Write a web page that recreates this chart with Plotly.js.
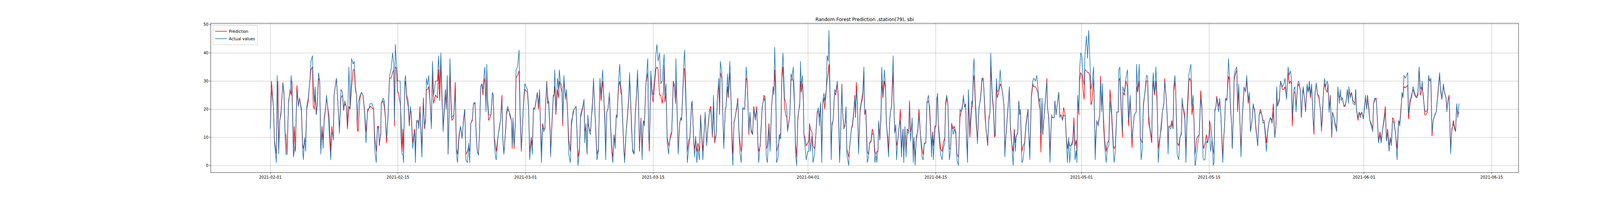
<!DOCTYPE html>
<html>
<head>
<meta charset="utf-8">
<script src="https://cdn.plot.ly/plotly-3.0.1.min.js"></script>
<style>
    html, body { margin: 0; padding: 0; background: #ffffff; overflow: hidden; }
    #plot1 { width: 4320px; height: 504px; }
</style>
</head>
<body>
<div id="plot1"></div>
<script>
// hours after 2021-02-01 00:00
var hours = [
    0,3,8,11,16,18,20,22,25,28,33,36,39,41,44,48,52,55,57,61,63,66,70,74,77,82,85,87,90,93,96,100,104,107,111,113,116,118,121,124,127,130,133,136,139,142,146,148,152,155,159,162,166,168,174,178,182,186,190,193,196,200,203,207,210,214,218,221,224,227,229,231,236,240,244,248,252,256,259,263,268,272,275,279,282,285,287,291,292,297,300,303,306,310,314,318,322,325,327,329,332,335,
    337,342,344,347,349,351,354,356,359,363,366,369,371,375,378,380,382,385,389,391,394,396,399,403,406,409,411,414,417,421,424,427,430,435,440,443,446,449,452,455,461,463,466,468,471,473,476,478,483,487,490,493,497,501,505,509,512,515,519,522,525,528,532,535,539,542,545,548,551,554,557,560,562,565,568,570,572,575,581,585,587,590,593,595,599,603,606,610,612,615,618,620,622,625,629,632,635,637,639,642,645,647,651,655,658,661,664,667,670,677,680,683,
    687,690,693,696,699,703,706,709,712,714,717,720,723,725,728,730,733,737,738,741,745,747,749,752,756,759,761,764,768,770,773,777,780,783,786,790,793,797,800,805,808,810,814,817,822,826,828,831,834,836,840,843,846,848,851,853,857,860,864,868,871,875,877,881,883,886,889,893,896,900,902,905,908,911,913,917,920,923,925,929,931,933,937,941,944,946,949,951,954,958,961,964,967,970,972,976,979,982,985,989,994,996,998,1002,1005,1008,1013,1015,1018,1021,1025,1028,1032,1035,
    1037,1039,1042,1045,1049,1050,1054,1057,1061,1064,1067,1068,1071,1074,1078,1081,1083,1086,1089,1091,1096,1098,1102,1105,1109,1111,1115,1117,1120,1123,1126,1130,1133,1136,1139,1145,1149,1153,1157,1160,1164,1167,1170,1174,1177,1181,1183,1185,1189,1192,1194,1198,1200,1204,1206,1210,1213,1216,1218,1221,1225,1228,1231,1234,1237,1240,1242,1244,1249,1253,1256,1260,1263,1266,1270,1273,1277,1281,1284,1286,1290,1295,1300,1303,1306,1309,1313,1316,1320,1324,1326,1328,1331,1333,1337,1340,1344,1347,1350,1354,1357,1360,1362,1368,1371,1374,1377,1380,1383,1386,
    1389,1392,1394,1396,1398,1401,1404,1405,1408,1411,1415,1418,1420,1422,1426,1429,1433,1436,1440,1443,1446,1449,1452,1455,1458,1460,1464,1466,1469,1471,1474,1477,1479,1482,1486,1489,1493,1495,1499,1501,1505,1507,1510,1513,1516,1518,1523,1525,1530,1533,1536,1539,1541,1543,1546,1549,1553,1556,1560,1563,1565,1568,1572,1575,1578,1582,1585,1589,1592,1595,1597,1600,1602,1605,1608,1610,1613,1617,1620,1622,1626,1628,1631,1633,1636,1640,1642,1644,1647,1649,1652,1656,1659,1662,1666,1668,1671,1674,1677,1681,1683,1686,1690,1693,1695,1698,1701,1705,1708,1712,1716,1719,1722,1726,1729,1733,
    1736,1740,1741,1744,1746,1750,1753,1755,1757,1759,1762,1765,1769,1772,1776,1778,1781,1784,1788,1791,1794,1798,1801,1805,1808,1812,1816,1819,1822,1825,1828,1831,1833,1836,1838,1842,1847,1849,1851,1853,1856,1859,1862,1866,1870,1874,1877,1879,1882,1885,1889,1892,1895,1897,1901,1904,1907,1909,1912,1914,1918,1922,1925,1928,1932,1934,1938,1942,1946,1949,1952,1956,1959,1962,1964,1968,1971,1973,1975,1979,1982,1986,1990,1995,1997,2000,2004,2008,2010,2015,2018,2021,2024,2027,2029,2032,2034,2038,2042,2045,2046,2050,2053,2057,2060,2064,2066,2069,2076,2079,2082,
    2086,2089,2093,2096,2099,2102,2105,2108,2113,2116,2119,2122,2124,2126,2129,2131,2134,2137,2140,2143,2145,2149,2152,2155,2158,2161,2164,2168,2172,2176,2180,2184,2186,2189,2191,2194,2197,2201,2204,2208,2211,2215,2220,2222,2225,2229,2233,2234,2237,2240,2244,2245,2249,2253,2257,2260,2264,2266,2269,2271,2275,2280,2281,2284,2288,2291,2293,2296,2299,2303,2307,2310,2313,2316,2321,2323,2325,2328,2330,2332,2335,2338,2341,2346,2349,2353,2355,2359,2362,2364,2366,2371,2374,2377,2379,2382,2384,2388,2392,2395,2399,2401,2405,2408,2411,2414,2419,2421,2424,2427,2430,2432,2435,
    2436,2439,2443,2446,2450,2453,2456,2458,2461,2465,2468,2472,2473,2476,2480,2483,2485,2487,2490,2492,2497,2500,2503,2506,2508,2510,2513,2515,2519,2523,2526,2528,2531,2533,2536,2538,2541,2545,2547,2550,2552,2556,2559,2564,2568,2571,2575,2578,2581,2585,2588,2592,2595,2600,2604,2607,2611,2614,2617,2623,2626,2629,2633,2638,2641,2645,2648,2650,2652,2657,2660,2665,2669,2672,2676,2680,2683,2686,2689,2691,2695,2698,2701,2705,2708,2712,2715,2718,2720,2724,2726,2730,2733,2736,2739,2742,2746,2748,2751,2754,2758,2761,2765,2768,2770,2773,2776,2779,2783,
    2785,2788,2791,2795,2797,2801,2804,2808,2811,2815,2817,2820,2823,2827,2830,2833,2836,2839,2840,2844,2847,2851,2856,2858,2860,2864,2867,2870,2874,2878,2881,2884,2887,2889,2893,2895,2899,2903,2905,2908,2912,2915,2918,2922,2925,2929,2932,2936,2939,2942,2946,2949,2952,2955,2959,2963,2967,2971,2974,2977,2980,2983,2985,2989,2995,2997,3001,3005,3009,3013,3018,3022,3025,3028,3031,3033,3036,3040,3043,3047,3050,3053,3056,3059,3062,3067,3070,3073,3076,3079,3082,3085,3089,3092,3096,3098,3101,3104,3108,3111,3115,3118,3121,3124,3127,3130
];

var actual = [
    13,27,21,8,1,32,20,4,16,19,29,25,9.5,4,4,23,26,32,26,3,5,8,26,21,24,19,6,2,10,5,21,24,30,37,39,29,22.5,28,18,23,33,30,4,13,6,16,20.6,25,19,12,2,12,10,25,31,22,11.4,27,26,20,23,21,15,35,20,38,36,37,28,25,14,22,24.7,26,25,19,8,20,20,22,22,20,5.4,1,14,13,8,11,22,24,23,17.4,10,17,32,34,40,36,16,43,36,30,
    30,30,10,4,4,1,30,32,25,23,15,21,18,6,10,12,1,16,16,13,20,14,3,24,14,17,31,28.5,32,21.5,13,37,25,30,30,39,27,40,26,12,26,20,32,4,19,38,23.4,17,18,26,4,1,10,14,9.5,17,20,2,1,8,1,15,16.5,22,22.5,12,5,3.6,12,28,29,27,31,35,19,36,24,18,18,26,25,7.7,3,2,9.5,13.7,16,23,9.5,4,9.5,14,19,21,19,18,16,7,17,7,15,34,35,41,18,6,15,23,29,27,21,2,
    9.5,4,20.6,20,22.5,26,21.5,27,9.5,1,14,12,13,22.5,29.4,25,21.5,11,3,14,25,25,34,19,31,27,34,29.4,28,16,32,23.4,27,18,4,1,14,19,20,21,9.5,0,5,18,20.6,23,8,15,4,18,12,11,18,20,31,24,11.4,2,5,31,25,34,28,14,2,19,20,26,13,3,1,11,6,18,17,30,36,28,26.6,12,5,1,12,19,25,33,23,14,5,4,19,25,34,20,7,16.5,2,16,14,29,38,12,7,33.6,27,25,32.6,39,43,37,40,29,30,36,
    39.5,25,29,8,4,8,10,11.4,28,29,22.5,38,19.7,4,15,17,16,27,37,41,17,1,7,10.5,22,23,8.6,3,10.5,1,6,2,17.4,10.5,2,19,7,15,20,19,11,25,9.5,11,23.4,31,19,37,33,16,6,20,20.6,32.6,25,37,24,5.4,0,15.5,18,21,23,11.4,4,1,10.5,20.6,20,35,29.4,12,19,13,11,20,16,20.6,7,1,8,20.6,24,22.5,3,1,14,5,21.5,28,25,42,29,1,3,11,9.5,32.6,40,24,22.5,20,12,18,32.6,31,35,24,4,0,
    17,20,21,37,28,32,22.5,11,7,2,5,5,14,5,10.5,1,4,9.5,18,20.6,14,22.5,1,23.4,25.7,23,27,39,37,48,23.4,2,15,16,27,26,30,24,1,7.7,28,19,13,14,21,4,0,6,13,15,19,24,17,26,22.5,4,20,22.5,26,35,18.3,19,1,3,7.7,8.6,11.4,11,1,4,1,6,16,9.5,19,35,25,34,28,16,8,3,16,19,21.5,39,22.5,11.4,14.6,2,8.6,14,16,3,13,1,14,3,12,11.4,22,8.6,17,1,10,0,10.5,12,18,11,3,2,7.7,8,22.5,25,
    18.8,8.6,3,11.4,2,13,14.6,24,25,14,8,4,2,6,8,22,25,22.5,2,5,15,11,13,11,2,0,20,19,20,25,20.6,22,9.5,1,27,13,23,21.5,34,38,25,17,7.7,20.6,23.4,30,31,27,19.7,12,8.6,16,19,40,25,21,12,10.5,31,26,27,34,28,26,21,3,13,19,28,14,8.6,0,12,5,10.5,11.4,23,18,20,1,2,7,14,20,11,2,25,30,31,30,32,28,22.5,24,11.4,24,11,18,26,30,21.5,16,1,18,17,17,23,18,26,17,18,
    16,18,17.4,9.5,1,10,1,7,7.7,15,2,5.4,1,25,19,34,40,38.6,31,28.5,38.6,46,38,48,37.7,27,29,35,2,16,14,18,30,19,29.2,14,7,1,6,7,23,18,5,1,5,19,19,33.8,35,22.5,12,28,26,31,34,16,25,19,9.5,12,18,19,36,26,36,9.5,2,6,22,26,32,31.7,18,13.7,9.5,28,33,26,28.5,35,24,1,7,15,19,22.5,30,24,16,4,14,13,15,13,28,32,26.6,4,2,9.5,12,24,19,16.5,1,19,32.6,34,36,21,25,16,0,
    0.3,4,8.6,11,24,20,3,2,2,8.6,8,11,15,5,9.5,0,1,19.7,21,24,19,24,18,7,1,8,15,24,23,38,31,22,15,6,19,31.7,34,35,21,29,21,3,17,28,26,32,23,26,12,16,22,19,13,7,18,19,18,15,15.5,5,11.4,15,17,15,19,10,14,28,21,24,30,28,29,31,23.4,35,32,33.6,31,17.4,27,28,19,29,30,27,17,26,28,22.5,19.7,29,26,30,25,29,16,13,25,29.4,25,25,19.7,12,19,25.7,31,28,30,
    28.5,18.8,24,10.5,19,17,14,12,28,22,27,23,24,21,21.5,23,27,22,28,24,26,22,21.5,27,20,17,19,17,19,16.5,20,25,20,24,19,16,14,12,22,24,23.4,17,8,11,8,13,15,19,8.6,12,5,10,7,16,15,11.4,2,16,14,19,26,24,32,31,33,18.3,23.4,24,28,26,24,25,35,28,27,30,24,19.7,19,20,32,30,31,12,16,18.3,19,23.4,28,33,26,23.4,29,25.7,24,19,23.4,24,4,13,15,13,12,22,17,22
];

var prediction = [
    13.5,30,21,9,4,25,30,6,16,18,29.5,26,11,11,4,22,27,25,30,4,14,5,28.5,21,24,20,8,6,8,9,20,23,30,34,35,21,20,25,18,22,31,30,6,14,9,17,21,24,20,17,5,14,9,25,31,22,13,24,25,19.5,22,21,13,21,20,28,34,34,27,25,13,12,24,26,25,20,12,19,20,21,20.5,20,10,5,13.5,14,7,12,22,23,21,17,8,18,31,31,33,34,14,35,34.5,26,
    26,22,18,5,13,4,28,30,24,21,14,20,19,8,11,13,5,15,16,14,21,15,6,24,13,16,27,27,28,22,14,33,22,25,24,34,23,36,23,14,27,20,29,4,18,34,21,16,17,29.6,6,4,11,14,10,16,20,4,5,7,5,15,16,22,22,11,5,4,12,28,29,25,29,31,21,34,22,16,18,26,25,10,7,5,10,13,16,25,10,4,10,13,18,20,19,17,16,6,15,6,14,31,32,33.6,16,5,14,22,27,26,20,5,
    10,7,20,20,22,26,20,26,12,5,15,13,13,22,30,22,23,12,4,13,24,25,28,18,27,24,30,28,26,14,30,25,25,18,9,5,16,18,20,21,10,3,6,17,20,23.5,12,14,4,15,13,12,18,22,30,24,12,4,6,30,23,30,27,17,5,19,20,25,14,5,3,11,8,18,17,28,30,26,25,12,5,3,12,18,24,31,22,13,6,4,18,24,32,19,5,17,6,16,15,29,33,12,5,32,25,22.5,30,34,35,34,25,25,22,26,
    35.6,22.5,26,10,7,7,11,12,30,28,22,30,21,5,15,17,16,26,34.5,34,16,5,9,10,21,22,8,6,10,5,8,5,18,11,5,18,8,14,20,21,10,21,8,11,23,29,18,33,31,16,7,20,21,28,24,33,24,10,4,15,18,20,24,12,8,5,7,20,20,31,30,11,18,12,11,21,17,21,8,5,7,20,25,24,6,7,15,7,21,28,26,34,24,5,7,9,12,31,35,21,18,17,13,18,30,31,30,22,8,3,
    16,20,22,30,26,29,22,11,10,7,8,9,15,13,12,7,6,10,19,20,17,22,5,22,24,20,26,30,33,35.9,24,6,14,16,26,25,29,26,4,8,29,19,14,14,20,6,3,6,13,14,18,25,17,29.6,22,5,19,22,24,33,18,20,5,4,8,9,13,11,5,4,5,5,15,9,17,30,24,30,27,15,10,5,16,19,21,33,22,12,13,7,9,14,20,6,13,5,13,6,13,12,23,12,15,5,10,3,9,13,20,11,6,4,8,8,22,23,
    21,10,7,12,7,14,14,22,25.7,15,11,6,5,8,10,21,24,22,6,6,15,13,14,12,4,3,17,19,21,24,21,22,10,5,23,10,21,21,30,32,24,14,9,20,24,31,31,27,17,13,7,17,19,35,24,20,10,11,30,24,26,29,28,26,21,6,12,20,27,13,8,5,13,8,10,12,23,18,20,5,7,8,15,20,11,6,24,29,28,28,27,26,22,20,4.7,22,11,18,25,31,21,17,5,17,17,17,23,18,26,18,18,
    16,20.6,18,10,6,9,7,7,9,17,7,9,5,24,18,30,33,32,26.6,23.4,34,33.6,33,33,31.7,21.5,23,31,6,15,15,18,31.7,20,27,17,9,5,8,9,27,20,7,6,7,19,19,30,31,21,10,26,25,30,28,14,23,18,6.3,12,18,19,28,26,30,10,9,8,21,26,30,30,15,13,8,26,30,25,27,30,22,6,9,13,19,22,31,24,17,7,14,14,16,13,26,30,27,8,7,10,11,22,20,18,6,16,30,31,30,18,22,17,4,
    5,9.5,10.5,11,26.6,21,7.7,6,7.7,11,8,11,16,14,9,5.4,4,19,21,24.6,21,23,18,8,3,9,15,23,24,31.7,30,21,15,6,18,30,32.4,34,19,27,20,6,16,27,27,30,22,25,12,16,21,20,14,7,18,20,18,16,16,8,12,15,17,16,22,10,14,27,21,23,30,27,27,28,24,33,29,30,29,14,26,26,21,28,29,27,17,25,27,23,19,28,26,28,24,28,16,11,26,29,25,24,20,13,16,26,29,27,26,
    29,20,25,10,19,17,15,13,26,24,25,24,24,21,21,23,27,23,26,25,26,23,22,27,20,16,19,18,19,17,21,24,20,25,20,16,15,13,22,23,24,17,9,12,9,13,16,21,9,13,7,10,8,17,16,11,6,16,15,20,25,25,28,27.6,28.5,16.5,22,25,27,25,24,26,35,25,26,28,25,18,18,19,31,30,30,10.5,16,18,19,23,27,32,27,24,28,26,24,20,23,25,6,12,16,14,12,21,18,19
];

var tickDates = ['2021-02-01', '2021-02-15', '2021-03-01', '2021-03-15', '2021-04-01', '2021-04-15', '2021-05-01', '2021-05-15', '2021-06-01', '2021-06-15'];
var yTicks = [0, 10, 20, 30, 40, 50];

var t0 = Date.UTC(2021, 1, 1);
var n = Math.min(hours.length, actual.length, prediction.length);
var times = [];
for (var i = 0; i < n; i++) {
    times.push(new Date(t0 + hours[i] * 3600000).toISOString().slice(0, 19).replace('T', ' '));
}

var axisStyle = {
    showgrid: true,
    gridcolor: '#b0b0b0',
    gridwidth: 0.8,
    showline: true,
    linecolor: '#000000',
    linewidth: 0.8,
    mirror: true,
    zeroline: false,
    ticks: 'outside',
    ticklen: 3.5,
    tickwidth: 0.8,
    tickcolor: '#000000',
    tickfont: { family: 'DejaVu Sans', size: 10, color: '#000000' }
};

var layout = {
    width: 4320,
    height: 504,
    margin: { l: 540, r: 433, t: 60, b: 63, pad: 0 },
    paper_bgcolor: '#ffffff',
    plot_bgcolor: '#ffffff',
    font: { family: 'DejaVu Sans', size: 10, color: '#000000' },
    title: {
        text: 'Random Forest Prediction ,station(79), sbi',
        font: { family: 'DejaVu Sans', size: 12, color: '#000000' },
        xref: 'paper', x: 0.5, xanchor: 'center',
        yref: 'container', y: 1 - 54 / 504, yanchor: 'bottom'
    },
    showlegend: true,
    legend: {
        x: 0.0015, y: 0.988, xanchor: 'left', yanchor: 'top',
        bgcolor: 'rgba(255,255,255,0.8)',
        bordercolor: '#cccccc', borderwidth: 1,
        font: { family: 'DejaVu Sans', size: 10, color: '#000000' },
        itemwidth: 30,
        tracegroupgap: 0
    },
    xaxis: Object.assign({}, axisStyle, {
        type: 'date',
        range: ['2021-01-25 11:38', '2021-06-17 22:20'],
        tickmode: 'array',
        tickvals: tickDates,
        ticktext: tickDates
    }),
    yaxis: Object.assign({}, axisStyle, {
        range: [-2.4, 50.4],
        tickmode: 'array',
        tickvals: yTicks,
        ticktext: yTicks.map(String)
    })
};

Plotly.newPlot('plot1', [{
    x: times,
    y: prediction.slice(0, n),
    type: 'scatter',
    mode: 'lines',
    name: 'Prediction',
    line: { color: '#ff0000', width: 1.5 }
}, {
    x: times,
    y: actual.slice(0, n),
    type: 'scatter',
    mode: 'lines',
    name: 'Actual values',
    line: { color: '#1f77b4', width: 1.5 }
}], layout, { displayModeBar: false, staticPlot: true });
</script>
</body>
</html>
